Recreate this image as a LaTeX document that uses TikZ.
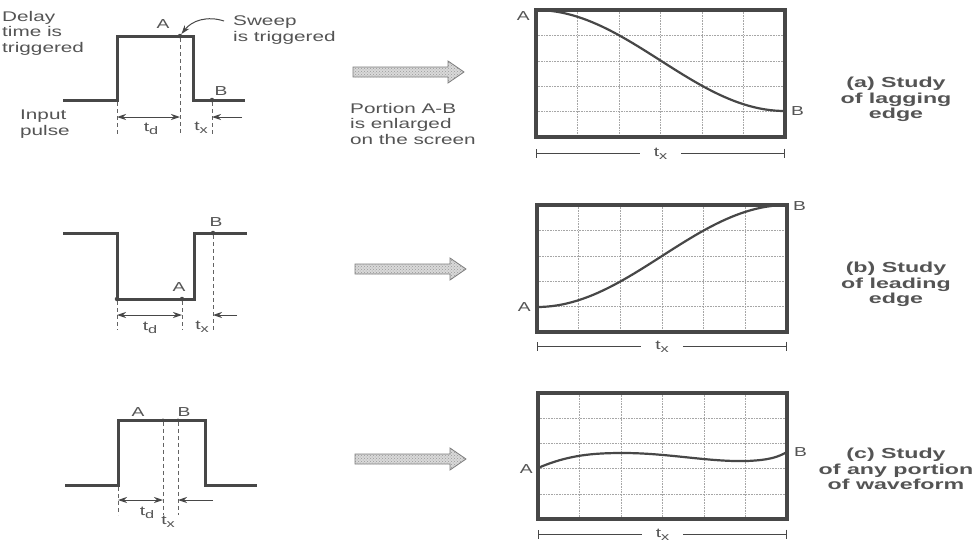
\documentclass[tikz,border=0pt]{standalone}
\usepackage{fontspec}
\setmainfont{Liberation Sans}[FakeStretch=1.48]
\newfontfamily\capfont{Liberation Sans}[FakeStretch=1.6]
\usetikzlibrary{arrows.meta,patterns}
\definecolor{inkgray}{gray}{0.28}
\definecolor{textgray}{gray}{0.33}
\newcommand{\tsub}[1]{t\raisebox{-3.5pt}{\fontsize{11}{11}\selectfont #1}}

\begin{document}
\begin{tikzpicture}[x=1pt, y=-1pt,
    wave/.style={line width=3pt, draw=inkgray},
    guide/.style={dash pattern=on 4pt off 3pt, line width=1pt, draw=inkgray!85},
    dim/.style={{Stealth[length=9pt,width=6pt]}-{Stealth[length=9pt,width=6pt]}, line width=1pt, draw=inkgray},
    dimin/.style={-{Stealth[length=9pt,width=6pt]}, line width=1pt, draw=inkgray},
    dot/.style={circle, fill=inkgray, inner sep=0pt, minimum size=4.5pt},
    lbl/.style={font=\fontsize{13}{15}\selectfont, text=textgray, inner sep=0pt},
    txt/.style={lbl, font=\fontsize{14}{15.5}\selectfont, align=left},
    captxt/.style={lbl, font=\fontsize{14.5}{15.5}\selectfont\capfont\bfseries, align=center},
    screen/.style={line width=3.5pt, draw=inkgray},
    grid/.style={densely dotted, line width=0.6pt, draw=black!35},
    trace/.style={line width=2.2pt, draw=inkgray, line cap=round},
    span/.style={line width=1pt, draw=inkgray},
    blockarrow/.pic={\draw[line width=0.8pt, draw=inkgray!70, preaction={fill=black!15},
      pattern=crosshatch dots, pattern color=black!40]
      (0,-5) -- (95,-5) -- (95,-11) -- (111,0) -- (95,11) -- (95,5) -- (0,5) -- cycle;}
  ]
  \path[fill=white] (0,0) rectangle (978,544);
  \useasboundingbox (0,0) rectangle (978,544);

  % (a) lagging edge
  \draw[wave] (63,100) -- (117,100) -- (117,36) -- (193,36) -- (193,100) -- (245,100);
  \node[dot] (pA1) at (180,36) {};
  \node[dot] (pB1) at (212,100) {};
  \coordinate (g1) at (117,102);
  \coordinate (g1e) at (117,134);
  \coordinate (pA1e) at (180,134);
  \coordinate (pB1e) at (212,134);
  \draw[guide] (g1) -- (g1e);
  \draw[guide] (pA1) -- (pA1e);
  \draw[guide] (pB1) -- (pB1e);
  \coordinate (td1l) at (117,117);
  \coordinate (td1r) at (180,117);
  \coordinate (tx1r) at (242,117);
  \coordinate (tx1l) at (212,117);
  \draw[dim] (td1l) -- (td1r);
  \draw[dimin] (tx1r) -- (tx1l);
  \node[lbl] (lA1) at (163,24) {A};
  \node[lbl] (lB1) at (221,91) {B};
  \node[lbl] (td1) at (151,129) {\tsub{d}};
  \node[lbl] (tx1) at (201,128) {\tsub{x}};
  \node[txt, anchor=north west] (delay) at (2,11) {Delay\\time is\\triggered};
  \node[txt, anchor=north west] (input) at (20,110) {Input\\pulse};
  \node[txt, anchor=north west] (sweep) at (233,16) {Sweep\\is triggered};
  \coordinate (sweepst) at (224,21);
  \draw[dimin] (sweepst) to[bend right=35] (pA1);
  \pic (arr1) at (353,72) {blockarrow};
  \node[txt, anchor=north west] (portion) at (350,103) {Portion A-B\\is enlarged\\on the screen};

  \begin{scope}[shift={(536,10)}]
    \foreach \i in {1,...,5} \draw[grid] ({\i*249/6},0) -- ({\i*249/6},127);
    \foreach \j in {1,...,4} \draw[grid] (0,{\j*127/5}) -- (249,{\j*127/5});
    \draw[trace] plot[domain=0:1, samples=50] ({249*\x},{101*(1-cos(180*\x))/2});
    \draw[screen] (0,0) rectangle (249,127);
    \node[lbl, anchor=east] (sA1) at (-6,6) {A};
    \node[lbl, anchor=west] (sB1) at (255,101) {B};
    \coordinate (sp1l) at (0,143);
    \coordinate (sp1r) at (249,143);
    \node[lbl, inner xsep=14pt] (stx1) at (124.5,144) {\tsub{x}};
    \draw[span, {Bar[width=9pt]}-] (sp1l) -- (stx1.west |- sp1l);
    \draw[span, -{Bar[width=9pt]}] (stx1.east |- sp1r) -- (sp1r);
  \end{scope}
  \node[captxt, anchor=north] (capa) at (896,77) {(a) Study\\of lagging\\edge};

  % (b) leading edge
  \draw[wave] (63,233) -- (117,233) -- (117,299) -- (194,299) -- (194,233) -- (247,233);
  \node[dot] (pA2) at (182,299) {};
  \node[dot] (pB2) at (213,233) {};
  \node[dot] (g2) at (117,299) {};
  \coordinate (g2e) at (117,330);
  \coordinate (pA2e) at (182,330);
  \coordinate (pB2e) at (213,330);
  \draw[guide] (g2) -- (g2e);
  \draw[guide] (pA2) -- (pA2e);
  \draw[guide] (pB2) -- (pB2e);
  \coordinate (td2l) at (117,315);
  \coordinate (td2r) at (182,315);
  \coordinate (tx2r) at (237,315);
  \coordinate (tx2l) at (213,315);
  \draw[dim] (td2l) -- (td2r);
  \draw[dimin] (tx2r) -- (tx2l);
  \node[lbl] (lA2) at (179,287) {A};
  \node[lbl] (lB2) at (216,222) {B};
  \node[lbl] (td2) at (150,328) {\tsub{d}};
  \node[lbl] (tx2) at (202,327) {\tsub{x}};
  \pic (arr2) at (355,269) {blockarrow};

  \begin{scope}[shift={(537,205)}]
    \foreach \i in {1,...,5} \draw[grid] ({\i*250/6},0) -- ({\i*250/6},127);
    \foreach \j in {1,...,4} \draw[grid] (0,{\j*127/5}) -- (250,{\j*127/5});
    \draw[trace] plot[domain=0:1, samples=50] ({250*\x},{102-102*(1-cos(180*\x))/2});
    \draw[screen] (0,0) rectangle (250,127);
    \node[lbl, anchor=east] (sA2) at (-6,102) {A};
    \node[lbl, anchor=west] (sB2) at (256,1) {B};
    \coordinate (sp2l) at (0,141);
    \coordinate (sp2r) at (250,141);
    \node[lbl, inner xsep=14pt] (stx2) at (125,142) {\tsub{x}};
    \draw[span, {Bar[width=9pt]}-] (sp2l) -- (stx2.west |- sp2l);
    \draw[span, -{Bar[width=9pt]}] (stx2.east |- sp2r) -- (sp2r);
  \end{scope}
  \node[captxt, anchor=north] (capb) at (896,262) {(b) Study\\of leading\\edge};

  % (c) any portion
  \draw[wave] (65,485) -- (118,485) -- (118,420) -- (205,420) -- (205,485) -- (257,485);
  \node[dot, minimum size=3.5pt] (pA3) at (163,420) {};
  \node[dot, minimum size=3.5pt] (pB3) at (178,420) {};
  \coordinate (g3) at (118,487);
  \coordinate (g3e) at (118,515);
  \coordinate (pA3e) at (163,515);
  \coordinate (pB3e) at (178,515);
  \draw[guide] (g3) -- (g3e);
  \draw[guide] (pA3) -- (pA3e);
  \draw[guide] (pB3) -- (pB3e);
  \coordinate (td3l) at (118,500);
  \coordinate (td3r) at (163,500);
  \coordinate (tx3r) at (213,500);
  \coordinate (tx3l) at (178,500);
  \draw[dim] (td3l) -- (td3r);
  \draw[dimin] (tx3r) -- (tx3l);
  \node[lbl] (lA3) at (138,412) {A};
  \node[lbl] (lB3) at (184,412) {B};
  \node[lbl] (td3) at (147,513) {\tsub{d}};
  \node[lbl] (tx3) at (168,522) {\tsub{x}};
  \pic (arr3) at (355,459) {blockarrow};

  \begin{scope}[shift={(538,393)}]
    \foreach \i in {1,...,5} \draw[grid] ({\i*249/6},0) -- ({\i*249/6},126);
    \foreach \j in {1,...,4} \draw[grid] (0,{\j*126/5}) -- (249,{\j*126/5});
    \draw[trace] (0,75) .. controls (30,62) and (55,60) .. (85,60)
      .. controls (130,60) and (170,69) .. (209,68)
      .. controls (232,67) and (240,64) .. (249,59);
    \draw[screen] (0,0) rectangle (249,126);
    \node[lbl, anchor=east] (sA3) at (-5,76) {A};
    \node[lbl, anchor=west] (sB3) at (256,59) {B};
    \coordinate (sp3l) at (0,141);
    \coordinate (sp3r) at (249,141);
    \node[lbl, inner xsep=14pt] (stx3) at (124.5,142) {\tsub{x}};
    \draw[span, {Bar[width=9pt]}-] (sp3l) -- (stx3.west |- sp3l);
    \draw[span, -{Bar[width=9pt]}] (stx3.east |- sp3r) -- (sp3r);
  \end{scope}
  \node[captxt, anchor=north] (capc) at (896,448) {(c) Study\\of any portion\\of waveform};
\end{tikzpicture}
\end{document}
